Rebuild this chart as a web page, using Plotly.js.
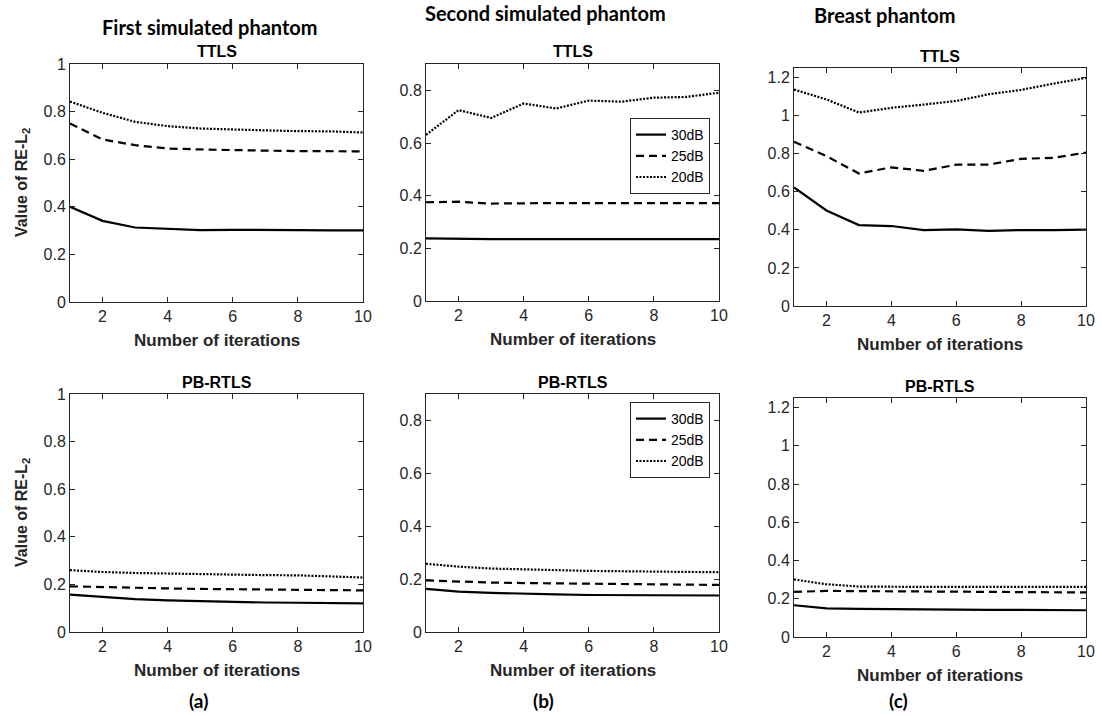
<!DOCTYPE html>
<html><head><meta charset="utf-8">
<script src="https://cdn.plot.ly/plotly-3.0.1.min.js"></script>
<style>html,body{margin:0;padding:0;background:#fff}#chart{width:1102px;height:716px}</style>
</head><body><div id="chart"></div>
<script>
const iterations = [1,2,3,4,5,6,7,8,9,10];
const noiseLevels = ["30dB","25dB","20dB"];
// First simulated phantom
const a_ttls_30 = [0.400,0.341,0.313,0.309,0.302,0.303,0.301,0.302,0.301,0.301];
const a_ttls_25 = [0.750,0.683,0.659,0.645,0.641,0.637,0.636,0.634,0.634,0.633];
const a_ttls_20 = [0.842,0.795,0.757,0.739,0.729,0.724,0.721,0.718,0.717,0.712];
const a_pb_30 = [0.157,0.147,0.138,0.133,0.129,0.126,0.124,0.123,0.122,0.120];
const a_pb_25 = [0.192,0.188,0.186,0.183,0.181,0.179,0.178,0.177,0.176,0.175];
const a_pb_20 = [0.260,0.252,0.248,0.245,0.242,0.240,0.239,0.238,0.235,0.229];
// Second simulated phantom
const b_ttls_30 = [0.238,0.236,0.235,0.235,0.235,0.235,0.235,0.235,0.235,0.235];
const b_ttls_25 = [0.375,0.377,0.370,0.372,0.372,0.372,0.372,0.372,0.372,0.372];
const b_ttls_20 = [0.631,0.725,0.695,0.750,0.731,0.761,0.757,0.772,0.775,0.791];
const b_pb_30 = [0.163,0.153,0.148,0.144,0.142,0.140,0.139,0.139,0.138,0.138];
const b_pb_25 = [0.195,0.190,0.187,0.185,0.184,0.183,0.182,0.181,0.180,0.178];
const b_pb_20 = [0.258,0.247,0.240,0.238,0.234,0.231,0.230,0.230,0.228,0.226];
// Breast phantom
const c_ttls_30 = [0.623,0.502,0.425,0.420,0.399,0.402,0.395,0.399,0.399,0.401];
const c_ttls_25 = [0.862,0.787,0.696,0.728,0.710,0.742,0.743,0.773,0.778,0.806];
const c_ttls_20 = [1.137,1.085,1.016,1.041,1.058,1.077,1.112,1.135,1.168,1.198];
const c_pb_30 = [0.166,0.150,0.147,0.145,0.143,0.143,0.142,0.142,0.141,0.140];
const c_pb_25 = [0.236,0.241,0.240,0.239,0.238,0.237,0.236,0.235,0.234,0.233];
const c_pb_20 = [0.301,0.276,0.264,0.262,0.262,0.262,0.262,0.262,0.262,0.262];

const columnTitles = ["First simulated phantom","Second simulated phantom","Breast phantom"];
const panelTitles = ["TTLS","PB-RTLS"];
const panelLabels = ["(a)","(b)","(c)"];
const xTitle = "Number of iterations";
const yTitle = "Value of RE-L<sub>2</sub>";

const W = 1102, H = 716;
const px = x => x / W, py = y => 1 - y / H;
const SANS = "'Liberation Sans', Arial, Helvetica, sans-serif";
const HUMAN = "Lato, 'Liberation Sans Narrow', sans-serif";

// panel boxes in pixels: [left, right, top, bottom]
const boxes = [
  [70,363,64,302],[426,719,64,301],[794,1086,68,306],
  [70,363,394,632],[426,719,394,632],[794,1086,398,637]
];
const yRanges = [[0,1],[0,0.9],[0,1.25],[0,1],[0,0.9],[0,1.25]];
const seriesSets = [
  [a_ttls_30,a_ttls_25,a_ttls_20],[b_ttls_30,b_ttls_25,b_ttls_20],[c_ttls_30,c_ttls_25,c_ttls_20],
  [a_pb_30,a_pb_25,a_pb_20],[b_pb_30,b_pb_25,b_pb_20],[c_pb_30,c_pb_25,c_pb_20]
];
const dashes = ["solid","8px,5px","2px,1.5px"];
const widths = [2.2,2.2,2.2];

const traces = [];
const layout = {
  width: W, height: H, margin:{l:0,r:0,t:0,b:0},
  paper_bgcolor:"#fff", plot_bgcolor:"#fff",
  font:{family:SANS, color:"#262626"},
  annotations: [],
  showlegend: true
};
const axisColor = "#262626";
seriesSets.forEach((sets, i) => {
  const n = i + 1;
  const xa = n === 1 ? "x" : "x" + n, ya = n === 1 ? "y" : "y" + n;
  const xk = n === 1 ? "xaxis" : "xaxis" + n, yk = n === 1 ? "yaxis" : "yaxis" + n;
  const b = boxes[i];
  sets.forEach((vals, k) => {
    const t = {
      x: iterations, y: vals, xaxis: xa, yaxis: ya, type:"scatter", mode:"lines",
      name: noiseLevels[k],
      line:{color:"#000", width: widths[k], dash: dashes[k]},
      showlegend: (i === 1 || i === 4),
      hoverinfo:"skip"
    };
    if (i === 1) t.legend = "legend";
    if (i === 4) t.legend = "legend2";
    traces.push(t);
  });
  const ticksY = [];
  for (let v = 0; v <= yRanges[i][1] + 1e-9; v += 0.2) ticksY.push(+v.toFixed(1));
  layout[xk] = {
    domain:[px(b[0]), px(b[1])], anchor: ya, range:[1,10], tickvals:[2,4,6,8,10],
    ticks:"inside", ticklen:5, tickcolor:axisColor, showline:true, linecolor:axisColor, linewidth:1,
    mirror:"ticks", showgrid:false, zeroline:false, fixedrange:true,
    tickfont:{size:16, color:axisColor, family:SANS}
  };
  layout[yk] = {
    domain:[py(b[3]), py(b[2])], anchor: xa, range: yRanges[i], tickvals: ticksY,
    ticktext: ticksY.map(v => String(v)),
    ticks:"inside", ticklen:5, tickcolor:axisColor, showline:true, linecolor:axisColor, linewidth:1,
    mirror:"ticks", showgrid:false, zeroline:false, fixedrange:true,
    tickfont:{size:16, color:axisColor, family:SANS}
  };
  const cx = (b[0] + b[1]) / 2;
  layout.annotations.push({
    text: "<b>" + panelTitles[i < 3 ? 0 : 1] + "</b>", x: px(cx), y: py(b[2] - 12), xref:"paper", yref:"paper",
    showarrow:false, font:{size:16, color:"#000", family:SANS},
    xanchor:"center", yanchor:"middle"
  });
  layout.annotations.push({
    text: "<b>" + xTitle + "</b>", x: px(cx), y: py(b[3] + 38), xref:"paper", yref:"paper",
    showarrow:false, font:{size:17, color:"#262626", family:SANS}, xanchor:"center", yanchor:"middle"
  });
  if (i === 0 || i === 3) {
    layout.annotations.push({
      text: "<b>" + yTitle + "</b>", x: px(22), y: py((b[2] + b[3]) / 2), xref:"paper", yref:"paper",
      showarrow:false, textangle:-90, font:{size:16, color:"#262626", family:SANS}, xanchor:"center", yanchor:"middle"
    });
  }
});
const colX = [210, 545, 885], colY = [27, 13, 15];
columnTitles.forEach((t, j) => {
  layout.annotations.push({
    text: "<b>" + t + "</b>", x: px(colX[j]), y: py(colY[j]), xref:"paper", yref:"paper",
    showarrow:false, font:{size:20, color:"#000", family:HUMAN},
    xanchor:"center", yanchor:"middle"
  });
});
const labX = [198, 543, 898];
panelLabels.forEach((t, j) => {
  layout.annotations.push({
    text: "<b>" + t + "</b>", x: px(labX[j]), y: py(700), xref:"paper", yref:"paper",
    showarrow:false, font:{size:19, color:"#000", family:HUMAN},
    xanchor:"center", yanchor:"middle"
  });
});
const legendStyle = (top) => ({
  x: px(630), y: py(top), xanchor:"left", yanchor:"top",
  bgcolor:"#fff", bordercolor:"#262626", borderwidth:1,
  font:{size:14, color:"#000", family:SANS}, tracegroupgap:0, itemwidth:30
});
layout.legend = legendStyle(118);
layout.legend2 = legendStyle(402);

Plotly.newPlot("chart", traces, layout, {displayModeBar:false, staticPlot:true});
</script></body></html>
